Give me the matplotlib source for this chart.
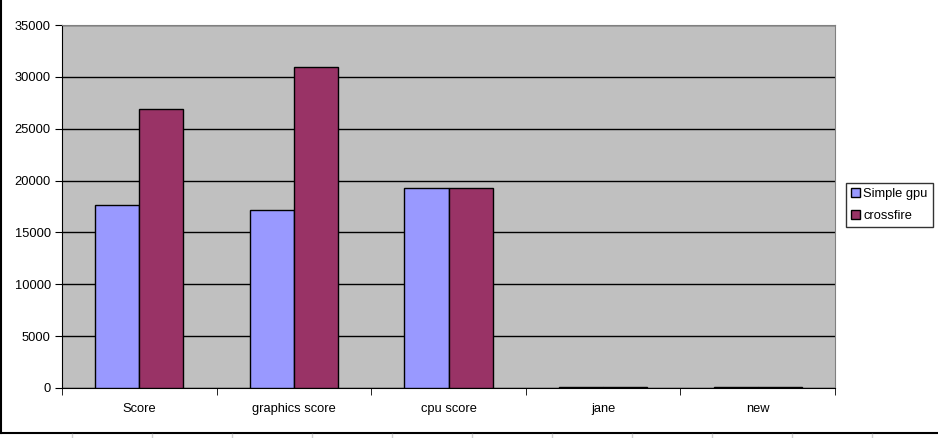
import matplotlib.pyplot as plt
import numpy as np
from matplotlib.lines import Line2D

# chart data
categories = ["Score", "graphics score", "cpu score", "jane", "new"]
simple_gpu = [17600, 17150, 19250, 60, 60]
crossfire = [26900, 30950, 19250, 60, 60]
y_ticks = [0, 5000, 10000, 15000, 20000, 25000, 30000, 35000]

plt.rcParams['font.family'] = ['Liberation Sans', 'DejaVu Sans']

fig = plt.figure(figsize=(9.38, 4.38), dpi=100)
W, H = 938, 438

# chart frame and spreadsheet cell lines below it
fig.add_artist(Line2D([0.5 / W, 0.5 / W], [5 / H, 1], color='black', lw=1.5, transform=fig.transFigure))
fig.add_artist(Line2D([0, 1], [5 / H, 5 / H], color='black', lw=1.5, transform=fig.transFigure))
for gx in range(72, W, 80):
    fig.add_artist(Line2D([gx / W, gx / W], [0, 4 / H], color='#d0d0d0', lw=1, transform=fig.transFigure))

ax = fig.add_axes([62 / W, 50 / H, 773 / W, 363 / H])
ax.set_facecolor('#c0c0c0')

x = np.arange(len(categories))
w = 1 / 3.5
ax.bar(x - w / 2, simple_gpu, w, color='#9999ff', edgecolor='black', lw=1, label='Simple gpu', zorder=3)
ax.bar(x + w / 2, crossfire, w, color='#993366', edgecolor='black', lw=1, label='crossfire', zorder=3)

ax.set_xlim(-0.5, len(categories) - 0.5)
ax.set_ylim(0, 35000)
ax.set_yticks(y_ticks)
ax.yaxis.grid(True, color='black', lw=1, zorder=1)
ax.set_axisbelow(True)

ax.set_xticks(x)
ax.set_xticklabels(categories, fontsize=9.3)
ax.tick_params(axis='x', length=0, pad=11)
ax.set_xticks(np.arange(-0.5, len(categories), 1), minor=True)
ax.tick_params(axis='x', which='minor', length=5, direction='out', color='black')
ax.tick_params(axis='y', length=5, direction='out', labelsize=9.3, pad=3)

for s in ['top', 'right']:
    ax.spines[s].set_color('#808080')
ax.spines['left'].set_color('black')
ax.spines['bottom'].set_color('black')

leg = fig.legend(loc='upper left', bbox_to_anchor=(846 / W, 1 - 183 / H), fontsize=9.3,
                 frameon=True, fancybox=False, edgecolor='black', handlelength=0.7,
                 handleheight=0.7, handletextpad=0.25, borderpad=0.4, labelspacing=0.75,
                 borderaxespad=0)
leg.get_frame().set_linewidth(1)

fig.savefig('out.png', dpi=100, facecolor='white')
